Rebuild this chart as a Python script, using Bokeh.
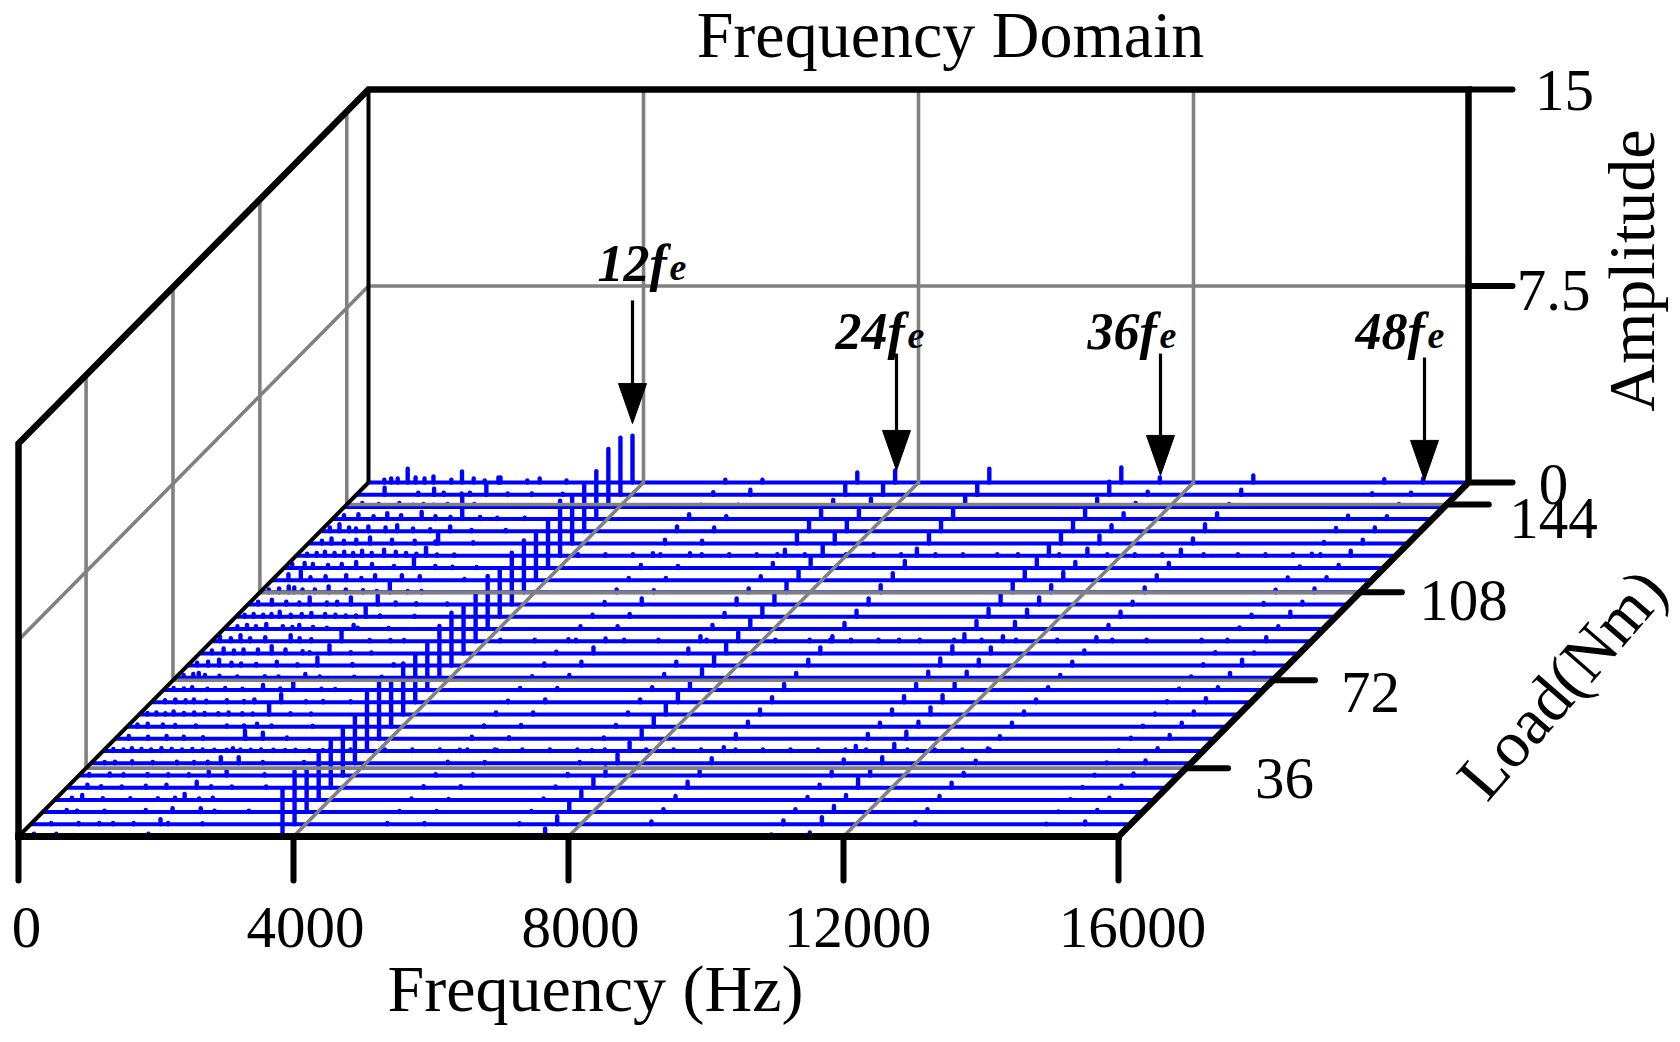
import math
from bokeh.plotting import figure
from bokeh.embed import file_html
from bokeh.resources import INLINE
from bokeh.models import Range1d
from bokeh.core.properties import value

# ---------- data ----------
LOADS = [8, 13, 18, 23, 28, 33, 38, 43, 48, 53, 58, 63, 68, 73, 78,
         83, 88, 93, 98, 103, 108, 113, 118, 123, 128, 133, 138, 143, 148, 153]
FREQ_TICKS = [0, 4000, 8000, 12000, 16000]
AMP_TICKS = [0, 7.5, 15]
AMP_LABELS = ["0", "7.5", "15"]
LOAD_TICKS = [36, 72, 108, 144]
HARMONIC_FREQS = [3840, 7680, 11520, 15360]
HARMONIC_NAMES = ["12f", "24f", "36f", "48f"]
ARROW_TIP_AMP = [2.25, 0.46, 0.27, 0.08]
ARROW_TAIL_AMP = [6.95, 4.92, 4.92, 4.77]

RIDGE_FREQS = [1890, 3840, 5190, 5730, 7110, 7660, 9030, 10950, 11510, 12870, 14775, 15340]
ridge_1890 = [.11,.19,.15,.23,.23,.15,.23,.11,.31,.11,.38,.31,.31,.15,.31,.31,.38,.15,.38,.34,.42,.19,.42,.31,.42,.19,.84,.11,.38,.19]
ridge_3840 = [1.83,2.02,1.60,1.76,1.79,1.79,1.83,2.21,2.18,1.68,1.95,1.79,1.83,1.98,2.02,1.76,1.79,2.02,1.83,1.98,1.98,1.83,1.79,2.10,1.83,1.76,1.83,2.21,2.18,1.79]
ridge_5190 = [.04,.05,.04,.05,.06,.05,.06,.05,.08,.05,.08,.06,.08,.06,.08,.06,.08,.11,.08,.10,.11,.08,.11,.10,.15,.19,.19,.08,.10,.11]
ridge_5730 = [.05,.05,.04,.04,.06,.05,.05,.04,.06,.06,.08,.11,.08,.11,.15,.23,.10,.11,.11,.23,.08,.08,.08,.10,.11,.15,.11,.08,.19,.11]
ridge_7110 = [.03,.04,.04,.05,.05,.06,.05,.04,.05,.06,.08,.11,.11,.15,.15,.19,.19,.15,.15,.23,.15,.15,.19,.23,.38,.38,.34,.27,.38,.38]
ridge_7660 = [.31,.31,.38,.34,.38,.31,.34,.34,.34,.38,.38,.38,.31,.34,.38,.38,.34,.38,.38,.42,.38,.42,.38,.38,.38,.38,.34,.31,.38,.46]
ridge_9030 = [.03,.11,.11,.15,.23,.19,.19,.15,.19,.19,.19,.19,.23,.19,.23,.23,.19,.23,.23,.23,.27,.27,.27,.27,.38,.38,.38,.42,.42,.53]
ridge_10950 = [.08,.15,.11,.11,.11,.15,.15,.19,.19,.15,.19,.23,.23,.23,.27,.27,.27,.31,.31,.38,.38,.38,.34,.38,.38,.38,.38,.31,.50,.57]
ridge_11510 = [.15,.27,.23,.19,.34,.23,.23,.27,.27,.19,.27,.27,.27,.23,.23,.23,.19,.27,.27,.27,.27,.31,.23,.27,.31,.23,.23,.15,.11,.19]
ridge_12870 = [.05,.08,.11,.15,.19,.10,.10,.10,.10,.15,.11,.11,.11,.11,.15,.11,.15,.15,.19,.11,.19,.19,.19,.23,.19,.27,.23,.11,.19,.27]
ridge_14775 = [.02,.02,.02,.03,.03,.03,.03,.03,.04,.04,.04,.04,.05,.05,.05,.05,.06,.06,.08,.06,.10,.10,.06,.08,.06,.13,.13,.06,.06,.13]
ridge_15340 = [.04,.11,.08,.08,.08,.08,.11,.11,.15,.15,.11,.15,.11,.19,.23,.04,.15,.11,.19,.11,.15,.11,.11,.19,.15,.15,.11,.11,.08,.15]
RIDGE_AMPS = [ridge_1890, ridge_3840, ridge_5190, ridge_5730, ridge_7110, ridge_7660,
              ridge_9030, ridge_10950, ridge_11510, ridge_12870, ridge_14775, ridge_15340]

# low frequency clutter of each row, front (row 0) to back (row 29)
low_f = [
 [225, 550, 780],
 [300, 700, 1000, 1200, 1500, 2000, 2500],
 [350, 500, 900, 1500, 2300, 2500, 3000],
 [250, 400, 700, 1100, 1500, 1750, 2100, 2300],
 [300, 500, 800, 1150, 1450, 2100, 2400, 2900],
 [150, 450, 650, 1000, 1300, 1600, 2150, 2700],
 [200, 350, 600, 900, 1250, 1500, 1700, 2150, 2500, 3100],
 [150, 300, 420, 560, 700, 850, 1000, 1150, 1300, 1450, 1620, 1800, 2000, 2150, 2300, 2480, 2650, 2800, 3000, 3200],
 [200, 480, 750, 1000, 1280, 1900, 2150, 2500],
 [150, 300, 520, 700, 1000, 1450, 1700, 2100, 2700],
 [120, 250, 380, 500, 650, 800, 950, 1150, 1300, 1500, 1650, 2200, 2500],
 [200, 350, 500, 620, 800, 1100, 1350, 1500, 2250, 2500, 2900],
 [150, 300, 420, 640, 900, 1150, 1450, 1700, 2300, 2500],
 [120, 260, 340, 430, 640, 900, 1300, 1500, 2100, 2600, 3000],
 [140, 300, 460, 640, 780, 1000, 1300, 1600, 2400, 3000],
 [180, 350, 500, 640, 850, 1050, 1250, 1500, 1600, 2200, 2500],
 [120, 280, 420, 560, 780, 1150, 1280, 1450, 2300, 2600, 2800],
 [200, 340, 470, 620, 860, 1000, 1100, 1300, 1500, 1950, 2400],
 [130, 260, 400, 520, 640, 800, 960, 1100, 1300, 1450, 1600, 1750, 2100, 2600],
 [150, 350, 560, 750, 900, 1150, 1300, 1500, 2150, 2450, 2900],
 [130, 280, 420, 500, 620, 800, 1000, 1250, 1500, 1700, 2150, 2350],
 [240, 420, 560, 780, 1080, 1300, 1500, 2150, 2800],
 [120, 300, 420, 640, 840, 1050, 1280, 1600, 2200, 2450, 2800],
 [160, 300, 420, 560, 700, 830, 960, 1100, 1280, 1450, 1600, 1750, 2050, 2300],
 [200, 340, 520, 700, 900, 1220, 1550, 1850, 2400],
 [140, 280, 420, 520, 700, 950, 1120, 1350, 1600, 2200, 2700],
 [170, 380, 600, 800, 1000, 1300, 1500, 1720, 2150, 2400, 2800],
 [260, 500, 800, 1000, 1150, 1300, 1500, 1700, 2250, 2500],
 [410, 900, 1130, 1270, 1530, 1650, 2200, 2550, 3000],
 [230, 330, 425, 570, 685, 815, 945, 1205, 1360, 1530, 1690, 1920, 2310, 2490, 2880],
]
low_a = [
 [.11, .11, .06],
 [.05, .05, .05, .05, .05, .05, .04],
 [.08, .05, .05, .08, .15, .05, .05],
 [.08, .19, .06, .06, .06, .08, .05, .08],
 [.11, .06, .05, .08, .11, .06, .05, .05],
 [.06, .08, .05, .06, .05, .05, .23, .05],
 [.05, .06, .08, .05, .06, .05, .06, .23, .05, .05],
 [.08, .06, .11, .08, .06, .11, .08, .06, .08, .06, .05, .05, .06, .05, .06, .05, .04, .05, .04, .04],
 [.11, .08, .11, .08, .06, .06, .23, .05],
 [.08, .11, .08, .06, .05, .05, .05, .05, .04],
 [.06, .08, .05, .11, .06, .08, .06, .05, .08, .05, .04, .05, .04],
 [.08, .11, .08, .11, .06, .08, .05, .11, .04, .05, .04],
 [.08, .06, .11, .05, .08, .05, .19, .06, .05, .04],
 [.11, .15, .19, .11, .08, .05, .06, .05, .05, .04, .04],
 [.11, .15, .23, .11, .08, .06, .15, .05, .06, .05],
 [.11, .19, .11, .15, .15, .27, .15, .08, .05, .05, .04],
 [.19, .11, .23, .11, .15, .23, .11, .08, .05, .05, .05],
 [.11, .15, .11, .19, .11, .08, .15, .08, .05, .05, .04],
 [.08, .11, .08, .11, .19, .08, .11, .15, .11, .08, .05, .05, .05, .04],
 [.11, .19, .11, .08, .27, .08, .11, .27, .08, .05, .04],
 [.11, .15, .23, .19, .11, .11, .23, .11, .08, .05, .05, .05],
 [.23, .34, .11, .15, .19, .08, .19, .15, .05],
 [.15, .19, .15, .11, .15, .23, .15, .08, .08, .05, .04],
 [.08, .11, .15, .11, .15, .11, .19, .11, .23, .15, .11, .08, .05, .05],
 [.11, .19, .11, .15, .23, .15, .11, .08, .05],
 [.15, .27, .15, .11, .19, .15, .23, .11, .08, .05, .05],
 [.15, .19, .11, .23, .15, .27, .11, .08, .08, .05, .05],
 [.15, .11, .15, .08, .11, .08, .11, .08, .05, .05],
 [.27, .08, .23, .08, .05, .08, .05, .05, .04],
 [.11, .15, .15, .53, .19, .15, .23, .11, .42, .15, .08, .19, .08, .15, .08],
]

# fine noise over the whole span on a few rows (row index, frequencies in Hz)
FUZZY_ROWS = [7, 16, 23]
fuzzy_f = [
 [3300, 3600, 4100, 4500, 4900, 5300, 5700, 6100, 6500, 6900, 7300, 7900, 8300, 8700, 9200, 9600, 10000, 10400, 10800, 11100, 11700, 12100, 12500, 12900],
 [4200, 4700, 5300, 6000, 6500, 7200, 8200, 8700, 9000, 9300, 9700, 10000, 10300, 10800, 11200, 11700, 12300, 13100, 13600, 14400],
 [4100, 4500, 4900, 5300, 5900, 6300, 6700, 7000, 7400, 8000, 8400, 8800, 9300, 9700, 10200, 10500, 11100, 11800, 12200, 12600, 13200, 13700, 14100, 14500, 14900],
]
FUZZY_AMP = 0.06

# ---------- layout (canvas pixels; the frame fills the canvas) ----------
FRONT_X0, FRONT_Y0 = 18, 836      # front-left floor corner
PX_PER_4000HZ = 275.0
PX_PER_AMP = 393.0 / 15.0
DEPTH_DX, DEPTH_DY = 350.0, 354.0  # floor depth in pixels
W, H = 1672, 1034
HZ_PER_PX = 4000.0 / PX_PER_4000HZ
LMIN, LMAX = LOADS[0], LOADS[-1]
GRAY, BLUE = "#808080", "#0000FF"
SERIF = "Liberation Serif"
TICK_PX = 44
LOAD_TICK_PX = 42
BASELINE_FIX = 0.33   # the alphabetic anchor sits this many font sizes above the glyph baseline


def project(f, load, amp):
    t = (load - LMIN) / (LMAX - LMIN)
    return f + t * DEPTH_DX * HZ_PER_PX, amp + t * DEPTH_DY / PX_PER_AMP


def px2data(px, py):
    return (px - FRONT_X0) * HZ_PER_PX, (FRONT_Y0 - py) / PX_PER_AMP


x0_, y1_ = px2data(0, 0)
x1_, y0_ = px2data(W, H)
p = figure(width=W, height=H, output_backend="svg", toolbar_location=None,
           x_range=Range1d(x0_, x1_), y_range=Range1d(y0_, y1_),
           x_axis_location=None, y_axis_location=None,
           min_border_left=0, min_border_right=0, min_border_top=0, min_border_bottom=0)
p.grid.visible = False
p.outline_line_color = None
p.background_fill_color = "white"

# ---------- spectra ----------
base_x0, base_x1, base_y0, base_y1 = [], [], [], []
stem_x, stem_y0, stem_y1 = [], [], []


def add_stem(f, load, a):
    x, y0 = project(f, load, 0)
    _, y1 = project(f, load, a)
    stem_x.append(x); stem_y0.append(y0); stem_y1.append(y1)


for r, load in enumerate(LOADS):
    xa, ya = project(0, load, 0)
    xb, yb = project(16000, load, 0)
    base_x0.append(xa); base_x1.append(xb); base_y0.append(ya); base_y1.append(yb)
    for f, amps in zip(RIDGE_FREQS, RIDGE_AMPS):
        add_stem(f, load, amps[r])
    for f, a in zip(low_f[r], low_a[r]):
        add_stem(f, load, a)
for r, fs in zip(FUZZY_ROWS, fuzzy_f):
    for f in fs:
        add_stem(f, LOADS[r], FUZZY_AMP)

p.segment(base_x0, base_y0, base_x1, base_y1, line_color=BLUE, line_width=4)
p.segment(stem_x, stem_y0, stem_x, stem_y1, line_color=BLUE, line_width=4.4, line_cap="round")

# ---------- gray grid ----------
gx, gy = [], []


def gline(*pts):
    xs, ys = zip(*[project(*q) for q in pts])
    gx.append(list(xs)); gy.append(list(ys))


TOP = AMP_TICKS[-1]
for f in FREQ_TICKS[1:-1]:
    gline((f, LMIN, 0), (f, LMAX, 0), (f, LMAX, TOP))
for L in LOAD_TICKS:
    gline((16000, L, 0), (0, L, 0))
    x0, y0 = project(0, L, 0)
    _, y1 = project(0, L, TOP)
    gx.append([x0, x0]); gy.append([y0, y1])
gline((0, LMIN, AMP_TICKS[1]), (0, LMAX, AMP_TICKS[1]), (16000, LMAX, AMP_TICKS[1]))
p.multi_line(gx, gy, line_color=GRAY, line_width=3.6, line_join="miter")

# ---------- black box and axes ----------


def bline(width, *pts, cap="butt"):
    xs, ys = zip(*[project(*q) for q in pts])
    p.line(list(xs), list(ys), line_color="black", line_width=width, line_join="miter", line_cap=cap)


bline(4, (0, LMIN, 0), (0, LMAX, 0))
bline(4, (0, LMAX, 0), (0, LMAX, TOP))
bline(6.5, (0, LMIN, 0), (0, LMIN, TOP), (0, LMAX, TOP), (16000, LMAX, TOP), (16000, LMAX, 0))
bline(6.5, (16000, LMIN, 0), (16000, LMAX, 0))
bline(7, (0, LMIN, 0), (16000, LMIN, 0), cap="square")

tx0, ty0, tx1, ty1 = [], [], [], []
for f in FREQ_TICKS:
    x, y = project(f, LMIN, 0)
    tx0.append(x); ty0.append(y); tx1.append(x); ty1.append(y - TICK_PX / PX_PER_AMP)
for a in AMP_TICKS:
    x, y = project(16000, LMAX, a)
    tx0.append(x); ty0.append(y); tx1.append(x + TICK_PX * HZ_PER_PX); ty1.append(y)
for L in LOAD_TICKS:
    x, y = project(16000, L, 0)
    tx0.append(x); ty0.append(y); tx1.append(x + LOAD_TICK_PX * HZ_PER_PX); ty1.append(y)
p.segment(tx0, ty0, tx1, ty1, line_color="black", line_width=6, line_cap="round")

# ---------- harmonic arrows ----------
HEAD_W, HEAD_H = 28 * HZ_PER_PX, 40 / PX_PER_AMP
hx, hy = [], []
for f, tip, tail in zip(HARMONIC_FREQS, ARROW_TIP_AMP, ARROW_TAIL_AMP):
    x, y_tip = project(f, LMAX, tip)
    _, y_tail = project(f, LMAX, tail)
    p.segment([x], [y_tail], [x], [y_tip + HEAD_H], line_color="black", line_width=3.2)
    hx.append([x - HEAD_W / 2, x + HEAD_W / 2, x])
    hy.append([y_tip + HEAD_H, y_tip + HEAD_H, y_tip])
p.patches(hx, hy, fill_color="black", line_color="black", line_width=1)

# ---------- texts ----------


def text(s, px, py, size, align="center", angle=0, style="normal", baseline="alphabetic"):
    if baseline == "alphabetic":
        # move along the text's own "up" direction
        px -= BASELINE_FIX * size * math.sin(angle)
        py -= BASELINE_FIX * size * math.cos(angle)
    x, y = px2data(px, py)
    p.text([x], [y], text=[s], text_font=value(SERIF), text_font_size=f"{size}px",
           text_font_style=style, text_align=align, text_baseline=baseline,
           text_color="black", angle=angle, angle_units="rad")


TICK_SIZE = 59
TITLE_SIZE = 66
for t, px in zip(FREQ_TICKS, [26, 305, 580, 857, 1132]):
    text(str(t), px, 946, TICK_SIZE)
for s, px, py in zip(AMP_LABELS, [1553, 1553, 1564], [503, 309, 109]):
    text(s, px, py, TICK_SIZE)
for L, px, py in zip(LOAD_TICKS, [1284, 1370, 1463, 1553], [797, 711, 619, 537]):
    text(str(L), px, py, TICK_SIZE)
text("Frequency Domain", 950, 56, TITLE_SIZE)
text("Frequency (Hz)", 595, 1010, TITLE_SIZE)
text("Amplitude", 1653, 270, TITLE_SIZE, angle=math.pi / 2)
text("Load(Nm)", 1561, 683, 66, angle=math.radians(49), baseline="middle")

for name, px, py in zip(HARMONIC_NAMES, [597, 835, 1087, 1355], [280, 348, 348, 348]):
    text(name, px, py, 52, align="left", style="bold italic")
    text("e", px + 72, py, 38, align="left", style="bold italic")

open("out.html", "w").write(file_html(p, INLINE))
